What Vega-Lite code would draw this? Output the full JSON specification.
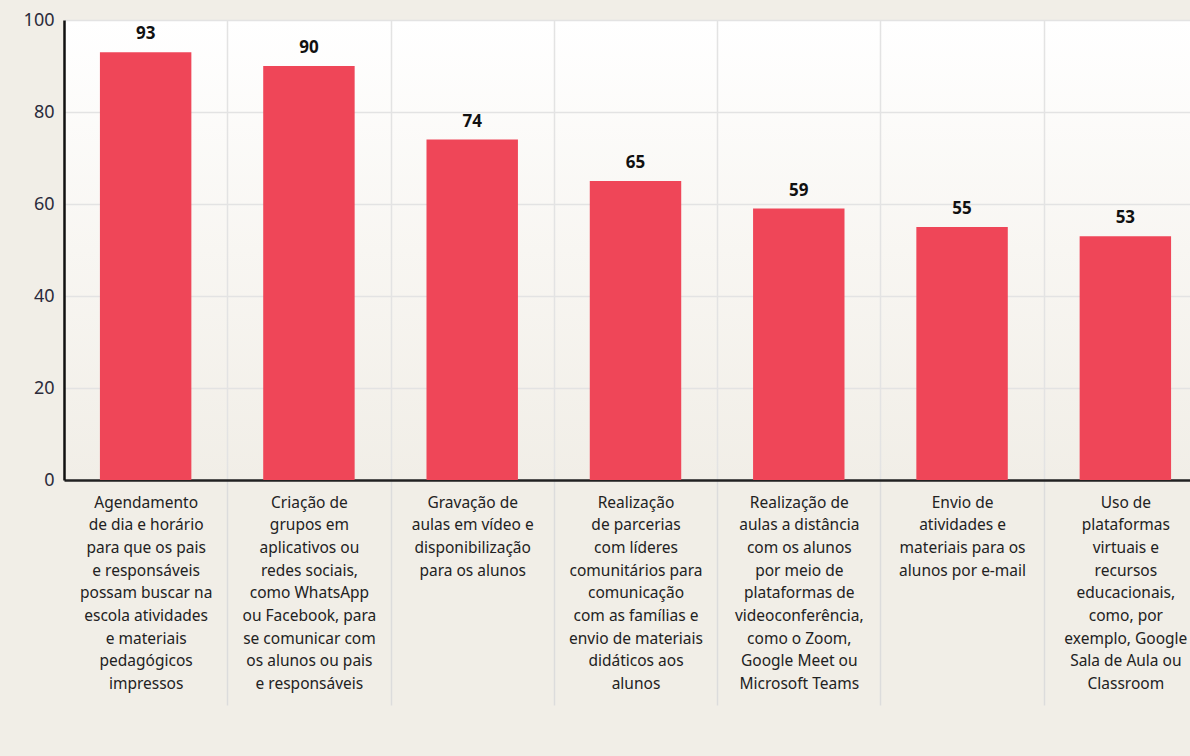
{
  "$schema": "https://vega.github.io/schema/vega-lite/v6.json",
  "width": 1143,
  "height": 460,
  "autosize": {"type": "none"},
  "padding": {"left": 64, "top": 20, "right": 0, "bottom": 276},
  "background": "#f1eee7",
  "config": {
    "font": "Noto Sans",
    "view": {
      "stroke": null,
      "fill": {"gradient": "linear", "x1": 0, "y1": 0, "x2": 0, "y2": 1,
        "stops": [{"offset": 0, "color": "#ffffff"}, {"offset": 0.5, "color": "#f8f6f2"}, {"offset": 1, "color": "#f1eee7"}]}
    }
  },
  "data": {
    "values": [
      {"cat": "Agendamento|de dia e horário|para que os pais|e responsáveis|possam buscar na|escola atividades|e materiais|pedagógicos|impressos", "v": 93},
      {"cat": "Criação  de|grupos em|aplicativos ou|redes sociais,|como WhatsApp|ou Facebook, para|se comunicar com|os alunos ou pais|e responsáveis", "v": 90},
      {"cat": "Gravação  de|aulas em vídeo e|disponibilização|para os alunos", "v": 74},
      {"cat": "Realização|de parcerias|com líderes|comunitários para|comunicação|com as famílias e|envio de materiais|didáticos aos|alunos", "v": 65},
      {"cat": "Realização de|aulas a distância|com os alunos|por meio de|plataformas de|videoconferência,|como o Zoom,|Google Meet ou|Microsoft Teams", "v": 59},
      {"cat": "Envio de|atividades e|materiais para os|alunos por e-mail", "v": 55},
      {"cat": "Uso de|plataformas|virtuais e|recursos|educacionais,|como, por|exemplo, Google|Sala de Aula ou|Classroom", "v": 53}
    ]
  },
  "encoding": {
    "x": {
      "field": "cat", "type": "nominal", "sort": null,
      "scale": {"paddingInner": 0.44, "paddingOuter": 0.22},
      "axis": {
        "title": null, "labelAngle": 0, "labelExpr": "split(datum.label, '|')",
        "domainColor": "#222222", "domainWidth": 2.5,
        "ticks": true, "tickOffset": 81.65, "tickSize": 225, "tickColor": "#dcdcdc", "tickWidth": 1.5,
        "grid": true, "gridColor": "#e3e3e3", "gridWidth": 1.5,
        "labelOffset": -81.65,
        "labelPadding": -210, "labelFontSize": 15.5, "labelLineHeight": 22.7,
        "labelBaseline": "top", "labelColor": "#222222", "labelLimit": 0
      }
    },
    "y": {
      "field": "v", "type": "quantitative",
      "scale": {"domain": [0, 100], "nice": false},
      "axis": {
        "title": null, "values": [0, 20, 40, 60, 80, 100],
        "domainColor": "#111111", "domainWidth": 2.5, "ticks": false,
        "labelPadding": 10, "labelFontSize": 18, "labelColor": "#2b2b3b",
        "grid": true, "gridColor": "#e3e3e3", "gridWidth": 1.5
      }
    }
  },
  "layer": [
    {"mark": {"type": "bar", "color": "#ef4658"}},
    {"mark": {"type": "text", "baseline": "bottom", "dy": -9, "fontSize": 17, "fontWeight": "bold", "color": "#111111"},
     "encoding": {"text": {"field": "v", "type": "quantitative"}}}
  ]
}
